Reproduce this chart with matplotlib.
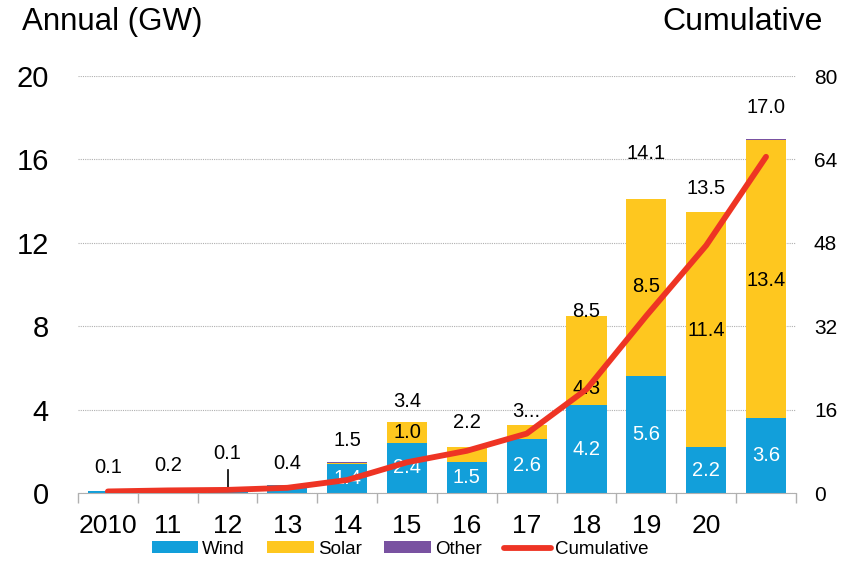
import numpy as np
import matplotlib
matplotlib.use("Agg")
from matplotlib import pyplot as plt

plt.rcParams["font.family"] = ["Liberation Sans", "DejaVu Sans"]

# annual additions (GW) by technology, 2010 .. 2021
years = ["2010", "11", "12", "13", "14", "15", "16", "17", "18", "19", "20", ""]
wind = [0.1, 0.1, 0.05, 0.4, 1.4, 2.4, 1.5, 2.6, 4.2, 5.6, 2.2, 3.6]
solar = [0.0, 0.05, 0.05, 0.0, 0.05, 1.0, 0.7, 0.65, 4.3, 8.5, 11.3, 13.35]
other = [0.0, 0.05, 0.0, 0.0, 0.05, 0.0, 0.0, 0.0, 0.0, 0.0, 0.0, 0.05]
cumulative = [0.3, 0.5, 0.6, 1.0, 2.5, 5.9, 8.1, 11.4, 19.9, 34.0, 47.5, 64.5]

totalLabels = ["0.1", "0.2", "0.1", "0.4", "1.5", "3.4", "2.2", "3...", "8.5", "14.1", "13.5", "17.0"]
windLabels = ["", "", "", "", "1.4", "2.4", "1.5", "2.6", "4.2", "5.6", "2.2", "3.6"]
solarLabels = ["", "", "", "", "", "1.0", "", "", "4.3", "8.5", "11.4", "13.4"]

# y positions (left axis units) where the labels were placed by hand
totalLabelYs = [1.2, 1.3, 1.9, 1.4, 2.5, 4.4, 3.4, 3.9, 8.7, 16.3, 14.6, 18.5]
solarLabelYs = [0, 0, 0, 0, 0, 2.9, 0, 0, 5.0, 9.9, 7.8, 10.2]

windColor = "#129fda"
solarColor = "#fec71f"
otherColor = "#7952a1"
lineColor = "#ee3424"

fig = plt.figure(figsize=(8.42, 5.63), dpi=100)
ax = fig.add_axes([0.0926, 0.1243, 0.8527, 0.7407])

x = np.arange(len(years))
wind = np.array(wind)
solar = np.array(solar)
other = np.array(other)
barWidth = 0.67

ax.bar(x, wind, barWidth, color=windColor, label="Wind", zorder=2)
ax.bar(x, solar, barWidth, bottom=wind, color=solarColor, label="Solar", zorder=2)
ax.bar(x, other, barWidth, bottom=wind + solar, color=otherColor, label="Other", zorder=2)

ax.set_xlim(-0.5, len(years) - 0.5)
ax.set_ylim(0, 20)
ax.set_yticks(np.arange(0, 21, 4))
ax.tick_params(axis="y", length=0, labelsize=21, pad=21)
ax.yaxis.grid(True, linestyle=(0, (1, 1)), color="#b0b0b0", linewidth=0.8, zorder=0)
ax.set_axisbelow(True)

# category labels in the middle, tick marks on the boundaries
ax.set_xticks(x)
ax.set_xticklabels(years, fontsize=19)
ax.tick_params(axis="x", which="major", length=0, pad=15)
ax.set_xticks(np.arange(-0.5, len(years), 1), minor=True)
ax.tick_params(axis="x", which="minor", length=7, color="#b0b0b0", width=1)

for side in ["left", "right", "top"]:
    ax.spines[side].set_visible(False)
ax.spines["bottom"].set_color("#b0b0b0")

# labels on the bars
for i in x:
    ax.text(i, totalLabelYs[i], totalLabels[i], ha="center", va="center",
            fontsize=14.5, zorder=5)
    if windLabels[i]:
        ax.text(i, wind[i] / 2, windLabels[i], ha="center", va="center",
                fontsize=14.5, color="white", zorder=5)
    if solarLabels[i]:
        ax.text(i, solarLabelYs[i], solarLabels[i], ha="center", va="center",
                fontsize=14.5, zorder=5)
# leader line for the 2012 label
ax.plot([2, 2], [0.15, 1.1], color="black", linewidth=1.2, zorder=5)

# cumulative line on the right axis
ax2 = ax.twinx()
ax2.plot(x, cumulative, color=lineColor, linewidth=4.2,
         solid_capstyle="round", solid_joinstyle="round", label="Cumulative", zorder=4)
ax2.set_ylim(0, 80)
ax2.set_yticks(np.arange(0, 81, 16))
ax2.tick_params(axis="y", length=0, labelsize=15, pad=13)
for side in ["left", "right", "top", "bottom"]:
    ax2.spines[side].set_visible(False)

fig.text(0.026, 0.988, "Annual (GW)", fontsize=22.5, ha="left", va="top")
fig.text(0.977, 0.988, "Cumulative", fontsize=23, ha="right", va="top")

# legend below the chart
h1, l1 = ax.get_legend_handles_labels()
h2, l2 = ax2.get_legend_handles_labels()
fig.legend(h1 + h2, l1 + l2, loc="center", bbox_to_anchor=(0.475, 0.024), ncol=4,
           frameon=False, fontsize=13.5, handlelength=2.5, handleheight=0.6,
           handletextpad=0.2, columnspacing=1.2)

fig.savefig("out.png", dpi=100)
